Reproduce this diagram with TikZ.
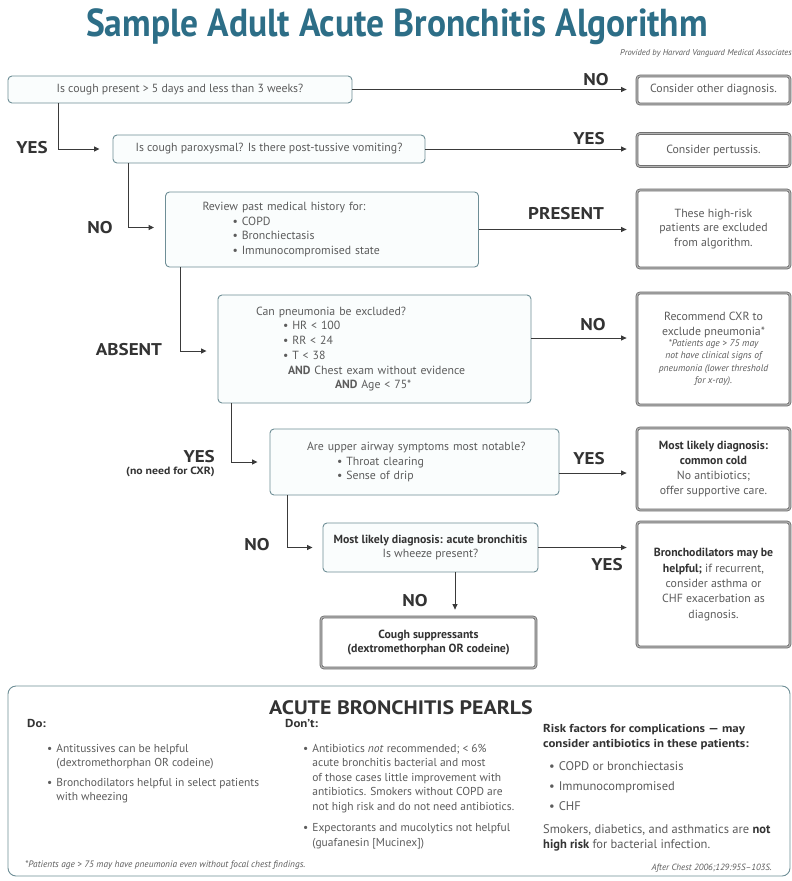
\documentclass[tikz,border=0pt]{standalone}
\usepackage{fontspec}
\setmainfont{PT Sans}
\newfontfamily\titlefont{PT Sans}[FakeStretch=0.91]
\newfontfamily\lblfont{PT Sans}[FakeStretch=1.12,Ligatures=TeX]
\usetikzlibrary{arrows.meta,calc}
\definecolor{titleblue}{HTML}{2D6E87}
\definecolor{flowline}{HTML}{6E8E96}
\definecolor{flowfill}{HTML}{FAFDFD}
\definecolor{txtgray}{HTML}{5C5C5C}
\definecolor{lblgray}{HTML}{333333}
\definecolor{ansline}{HTML}{686868}
\definecolor{ansmid}{HTML}{B4B4B4}
\definecolor{arrowgray}{HTML}{3A3A3A}
\newcommand{\bodyfont}{\fontsize{11.8}{14.7}\selectfont}
\newcommand{\bul}{\textbullet\ }
\begin{document}
\begin{tikzpicture}[x=1pt,y=-1pt,
  flowbox/.style={draw=flowline, line width=0.9pt, rounded corners=4pt,
    fill=flowfill, inner sep=0pt, text=txtgray, font=\bodyfont},
  ansbox/.style={draw=ansline, line width=0.8pt, double=ansmid,
    double distance=1.1pt, rounded corners=3pt, fill=white, inner sep=0pt,
    align=center, text=txtgray, font=\bodyfont},
  lbl/.style={font=\lblfont\bfseries\fontsize{17}{17}\selectfont, text=lblgray, inner sep=0pt},
  conn/.style={draw=arrowgray, line width=0.9pt, -{Triangle[length=5.5pt,width=5pt]}},
  ptext/.style={inner sep=0pt, text=txtgray, font=\fontsize{11.5}{14.5}\selectfont},
  ptextb/.style={inner sep=0pt, text=txtgray, font=\fontsize{12.5}{14.5}\selectfont},
  phead/.style={inner sep=0pt, text=lblgray, font=\lblfont\bfseries\fontsize{11.5}{15}\selectfont},
]
\fill[white] (0,0) rectangle (792,881);
\useasboundingbox (0,0) rectangle (792,881);

% title
\node[anchor=base, inner sep=0pt, text=titleblue,
  font=\titlefont\bfseries\fontsize{39}{39}\selectfont] (title) at (397,36)
  {Sample Adult Acute Bronchitis Algorithm};
\node[anchor=base east, inner sep=0pt, text=txtgray,
  font=\itshape\fontsize{8.5}{9}\selectfont] (prov) at (792,55)
  {Provided by Harvard Vanguard Medical Associates};

% decision boxes
\node[flowbox, minimum width=344pt, minimum height=27pt, align=center] (b1) at (180,89.5)
  {Is cough present > 5 days and less than 3 weeks?};
\node[flowbox, minimum width=312pt, minimum height=28pt, align=center] (b2) at (269,149)
  {Is cough paroxysmal? Is there post-tussive vomiting?};
\node[flowbox, minimum width=313pt, minimum height=75pt, text width=239pt, align=left] (b3) at (322,229.5)
  {Review past medical history for:\\
   \hspace*{30pt}\bul COPD\\
   \hspace*{30pt}\bul Bronchiectasis\\
   \hspace*{30pt}\bul Immunocompromised state};
\node[flowbox, minimum width=313pt, minimum height=108pt, text width=237pt, align=left] (b4) at (374.5,349)
  {Can pneumonia be excluded?\\
   \hspace*{27pt}\bul HR < 100\\
   \hspace*{27pt}\bul RR < 24\\
   \hspace*{27pt}\bul T < 38\\
   \hspace*{32pt}\textbf{AND} Chest exam without evidence\\
   \hspace*{79pt}\textbf{AND} Age < 75*};
\node[flowbox, minimum width=289pt, minimum height=66pt, text width=215pt, align=left] (b5) at (414.5,462)
  {\mbox{Are upper airway symptoms most notable?}\\
   \hspace*{30pt}\bul Throat clearing\\
   \hspace*{30pt}\bul Sense of drip};
\node[flowbox, minimum width=215pt, minimum height=49pt, align=center] (b6) at (430.5,547.5)
  {\textcolor{lblgray}{\textbf{Most likely diagnosis: acute bronchitis}}\\Is wheeze present?};
\node[ansbox, minimum width=215pt, minimum height=51pt] (b7) at (428.5,642.5)
  {\textcolor{lblgray}{\textbf{Cough suppressants}}\\\textcolor{lblgray}{\textbf{(dextromethorphan OR codeine)}}};

% outcome boxes
\node[ansbox, minimum width=153pt, minimum height=28pt] (a1) at (713.5,90)
  {Consider other diagnosis.};
\node[ansbox, minimum width=153pt, minimum height=33pt] (a2) at (713.5,150)
  {Consider pertussis.};
\node[ansbox, minimum width=153pt, minimum height=78pt] (a3) at (713.5,229)
  {These high-risk\\patients are excluded\\from algorithm.};
\node[ansbox, minimum width=153pt, minimum height=112pt] (a4) at (713.5,349)
  {Recommend CXR to\\exclude pneumonia*\\[1pt]
   \parbox{146pt}{\centering\itshape\fontsize{9.6}{12.3}\selectfont
   *Patients age > 75 may\\not have clinical signs of\\pneumonia (lower threshold\\for x-ray).}};
\node[ansbox, minimum width=153pt, minimum height=82pt] (a5) at (713.5,469)
  {\textcolor{lblgray}{\textbf{Most likely diagnosis:}}\\\textcolor{lblgray}{\textbf{common cold}}\\No antibiotics;\\offer supportive care.};
\node[ansbox, minimum width=153pt, minimum height=125pt,
  font=\fontsize{11.8}{15.3}\selectfont] (a6) at (713.5,584.5)
  {\textcolor{lblgray}{\textbf{Bronchodilators may be}}\\\textcolor{lblgray}{\textbf{helpful;}} if recurrent,\\consider asthma or\\CHF exacerbation as\\diagnosis.};

% labels
\node[lbl] (l1) at (596,80) {NO};
\node[lbl] (l2) at (32,148) {YES};
\node[lbl] (l3) at (589,139) {YES};
\node[lbl] (l4) at (100,228) {NO};
\node[lbl] (l5) at (566,214) {PRESENT};
\node[lbl] (l6) at (129,350) {ABSENT};
\node[lbl] (l7) at (593,325) {NO};
\node[lbl, anchor=east] (l8) at (215,457) {YES};
\node[anchor=east, inner sep=0pt, text=lblgray, font=\lblfont\bfseries\fontsize{10.5}{11}\selectfont] (l8b) at (215,472) {(no need for CXR)};
\node[lbl] (l9) at (589,459) {YES};
\node[lbl] (l10) at (257,545) {NO};
\node[lbl] (l11) at (607,565) {YES};
\node[lbl] (l12) at (415,601) {NO};

% connectors: main chain (left side)
\draw[conn] ([xshift=51pt]b1.south west) |- ([xshift=-13pt]b2.west);
\draw[conn] ([xshift=16pt]b2.south west) |- ([xshift=-11pt,yshift=2pt]b3.west);
\draw[conn] ([xshift=15pt]b3.south west) |- ([xshift=-11pt,yshift=-2pt]b4.west);
\draw[conn] ([xshift=14pt]b4.south west) |- ([xshift=-12pt]b5.west);
\draw[conn] ([xshift=18pt]b5.south west) |- ([xshift=-10pt]b6.west);
\draw[conn] ([xshift=24.5pt]b6.south) -- ([xshift=24.5pt,yshift=7pt]b6.south |- b7.north);

% connectors to outcomes
\draw[conn, shorten >=10pt] (b1.east) -- (b1.east -| a1.west);
\draw[conn, shorten >=10pt] (b2.east) -- (b2.east -| a2.west);
\draw[conn, shorten >=10pt] (b3.east) -- (b3.east -| a3.west);
\draw[conn, shorten >=10pt] ([yshift=11pt]b4.east) -- ([yshift=11pt]b4.east -| a4.west);
\draw[conn, shorten >=10pt] ([yshift=-11pt]b5.east) -- ([yshift=-11pt]b5.east -| a5.west);
\draw[conn, shorten >=10pt] (b6.east) -- (b6.east -| a6.west);

% pearls panel
\node[draw=flowline, line width=0.9pt, rounded corners=8pt, minimum width=782pt,
  minimum height=190pt, inner sep=0pt] (pearls) at (399,781) {};
\node[anchor=base, inner sep=0pt, text=lblgray,
  font=\lblfont\bfseries\fontsize{19.5}{19.5}\selectfont] (ptitle) at (401,714)
  {ACUTE BRONCHITIS PEARLS};

\node[phead, anchor=base west] (doh) at (27,727) {Do:};
\node[ptext, anchor=base west] (docol) at (47,752)
  {\begin{tabular}[t]{@{}l@{\hspace{4pt}}l@{}}
   \textbullet & Antitussives can be helpful\\
   & (dextromethorphan OR codeine)\\[5pt]
   \textbullet & Bronchodilators helpful in select patients\\
   & with wheezing
   \end{tabular}};

\node[phead, anchor=base west] (donth) at (285,727) {Don’t:};
\node[ptext, anchor=base west] (dontcol) at (303,752)
  {\begin{tabular}[t]{@{}l@{\hspace{4pt}}l@{}}
   \textbullet & Antibiotics \textit{not} recommended; < 6\%\\
   & acute bronchitis bacterial and most\\
   & of those cases little improvement with\\
   & antibiotics. Smokers without COPD are\\
   & not high risk and do not need antibiotics.\\[7pt]
   \textbullet & Expectorants and mucolytics not helpful\\
   & (guafanesin [Mucinex])
   \end{tabular}};

\node[phead, anchor=base west, align=left] (riskh) at (543,747)
  {Risk factors for complications — may\\consider antibiotics in these patients:};
\node[ptextb, anchor=base west] (riskcol) at (549,770)
  {\begin{tabular}[t]{@{}l@{\hspace{4pt}}l@{}}
   \textbullet & COPD or bronchiectasis\\[5.5pt]
   \textbullet & Immunocompromised\\[5.5pt]
   \textbullet & CHF
   \end{tabular}};
\node[ptextb, anchor=base west, align=left] (smok) at (543,848)
  {Smokers, diabetics, and asthmatics are \textcolor{lblgray}{\textbf{not}}\\
   \textcolor{lblgray}{\textbf{high risk}} for bacterial infection.};

\node[anchor=base west, inner sep=0pt, text=txtgray,
  font=\itshape\fontsize{9.3}{10}\selectfont] (foot) at (25,867)
  {*Patients age > 75 may have pneumonia even without focal chest findings.};
\node[anchor=base east, inner sep=0pt, text=txtgray,
  font=\itshape\fontsize{9}{10}\selectfont] (cite) at (772,870)
  {After Chest 2006;129:95S--103S.};
\end{tikzpicture}
\end{document}
